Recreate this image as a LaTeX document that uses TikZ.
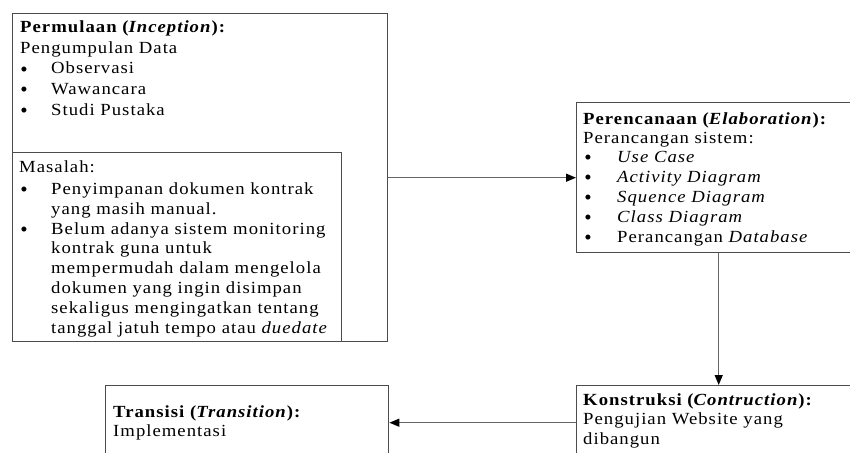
\documentclass[tikz,border=0pt]{standalone}
\usepackage{fontspec}
\setmainfont{Liberation Serif}[FakeStretch=1.1, LetterSpace=6]
\newfontfamily\bulletfont{Liberation Serif}
\usetikzlibrary{arrows.meta}
\tikzset{
  box/.style={draw=black!70, line width=1.4pt, inner sep=0pt, anchor=north west, fill=none},
  txt/.style={anchor=base west, inner sep=0pt, text=black, font=\fontsize{17}{20}\selectfont},
  bul/.style={anchor=center, inner sep=0pt, text=black, text height=4pt, text depth=0pt, font=\bulletfont\fontsize{21}{20}\selectfont},
  arr/.style={draw=black!60, line width=1.4pt, -{Triangle[length=10pt,width=8pt,black]}},
}
\begin{document}
\begin{tikzpicture}[x=1pt,y=-1pt]
\useasboundingbox (0,0) rectangle (850,452);
% boxes
\node[box, minimum width=375pt, minimum height=328pt] (outer) at (12,13) {};
\node[box, minimum width=329pt, minimum height=189pt] (inner) at (12,152) {};
\node[box, minimum width=284pt, minimum height=150pt] (elab) at (576,102) {};
\node[box, minimum width=284pt, minimum height=74pt] (kons) at (576,385) {};
\node[box, minimum width=283pt, minimum height=74pt] (trans) at (105,385) {};
% Permulaan
\node[txt] (p1) at (20,33) {\textbf{Permulaan (\textit{Inception}):}};
\node[txt] (p2) at (20,53) {Pengumpulan Data};
\node[bul] (pb1) at (24,74) {•};
\node[txt] (p3) at (51,74) {Observasi};
\node[bul] (pb2) at (24,94) {•};
\node[txt] (p4) at (51,94) {Wawancara};
\node[bul] (pb3) at (24,115) {•};
\node[txt] (p5) at (51,115) {Studi Pustaka};
% Masalah
\node[txt] (m0) at (19,172) {Masalah:};
\node[bul] (mb1) at (24,194) {•};
\node[txt] (m1) at (51,194) {Penyimpanan dokumen kontrak};
\node[txt] (m2) at (51,214) {yang masih manual.};
\node[bul] (mb2) at (24,234) {•};
\node[txt] (m3) at (51,234) {Belum adanya sistem monitoring};
\node[txt] (m4) at (51,253) {kontrak guna untuk};
\node[txt] (m5) at (51,273) {mempermudah dalam mengelola};
\node[txt] (m6) at (51,293) {dokumen yang ingin disimpan};
\node[txt] (m7) at (51,313) {sekaligus mengingatkan tentang};
\node[txt] (m8) at (51,333) {tanggal jatuh tempo atau \textit{duedate}};
% Elaboration
\node[txt] (e0) at (583,124) {\textbf{Perencanaan (\textit{Elaboration}):}};
\node[txt] (e1) at (583,143) {Perancangan sistem:};
\node[bul] (eb1) at (588,162) {•};
\node[txt] (e2) at (617,162) {\textit{Use Case}};
\node[bul] (eb2) at (588,182) {•};
\node[txt] (e3) at (617,182) {\textit{Activity Diagram}};
\node[bul] (eb3) at (588,202) {•};
\node[txt] (e4) at (617,202) {\textit{Squence Diagram}};
\node[bul] (eb4) at (588,222) {•};
\node[txt] (e5) at (617,222) {\textit{Class Diagram}};
\node[bul] (eb5) at (588,242) {•};
\node[txt] (e6) at (617,242) {Perancangan \textit{Database}};
% Konstruksi
\node[txt] (k0) at (583,405) {\textbf{Konstruksi (\textit{Contruction}):}};
\node[txt] (k1) at (583,424) {Pengujian Website yang};
\node[txt] (k2) at (583,444) {dibangun};
% Transisi
\node[txt] (t0) at (113,417) {\textbf{Transisi (\textit{Transition}):}};
\node[txt] (t1) at (113,436) {Implementasi};
% connectors
\draw[arr] (outer.east) -- (elab.west);
\draw[arr] (elab.south) -- (kons.north);
\draw[arr] (kons.west) -- (trans.east);
\end{tikzpicture}
\end{document}
